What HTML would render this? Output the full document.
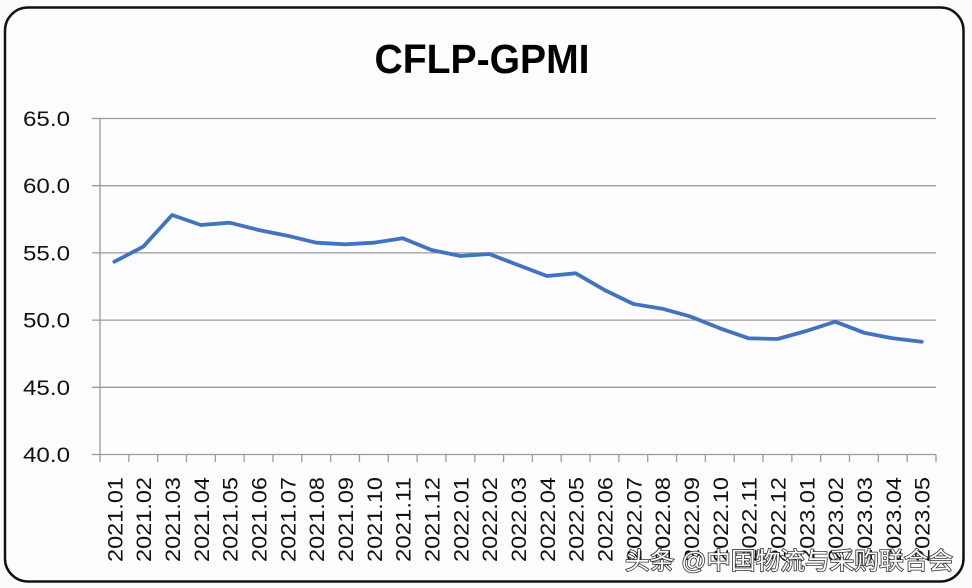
<!DOCTYPE html>
<html>
<head>
<meta charset="utf-8">
<style>
  html,body{margin:0;padding:0;background:#fbfbfb;}
  svg{display:block;}
  text{font-family:"Liberation Sans","Noto Sans CJK SC",sans-serif;}
</style>
</head>
<body>
<svg width="972" height="588" viewBox="0 0 972 588" xmlns="http://www.w3.org/2000/svg">
  <rect x="0" y="0" width="972" height="588" fill="#fbfbfb"/>
  <rect x="5" y="7.5" width="958.5" height="574" rx="23" ry="23" fill="#fdfdff" stroke="#111" stroke-width="2.5"/>

  <text x="482" y="73" text-anchor="middle" font-size="41" font-weight="bold" fill="#000" textLength="215" lengthAdjust="spacingAndGlyphs">CFLP-GPMI</text>

  <!-- gridlines -->
  <g stroke="#9a9a9a" stroke-width="1.3">
    <line x1="92" y1="118.5" x2="936" y2="118.5"/>
    <line x1="92" y1="185.7" x2="936" y2="185.7"/>
    <line x1="92" y1="252.9" x2="936" y2="252.9"/>
    <line x1="92" y1="320.1" x2="936" y2="320.1"/>
    <line x1="92" y1="387.3" x2="936" y2="387.3"/>
    <line x1="92" y1="454.5" x2="936" y2="454.5"/>
    <line x1="100" y1="118.5" x2="100" y2="454.5"/>
  </g>
  <!-- x ticks -->
  <g stroke="#9a9a9a" stroke-width="1.3">
    <line x1="100" y1="454.5" x2="100" y2="462"/>
    <line x1="128.83" y1="454.5" x2="128.83" y2="462"/>
    <line x1="157.66" y1="454.5" x2="157.66" y2="462"/>
    <line x1="186.48" y1="454.5" x2="186.48" y2="462"/>
    <line x1="215.31" y1="454.5" x2="215.31" y2="462"/>
    <line x1="244.14" y1="454.5" x2="244.14" y2="462"/>
    <line x1="272.97" y1="454.5" x2="272.97" y2="462"/>
    <line x1="301.79" y1="454.5" x2="301.79" y2="462"/>
    <line x1="330.62" y1="454.5" x2="330.62" y2="462"/>
    <line x1="359.45" y1="454.5" x2="359.45" y2="462"/>
    <line x1="388.28" y1="454.5" x2="388.28" y2="462"/>
    <line x1="417.10" y1="454.5" x2="417.10" y2="462"/>
    <line x1="445.93" y1="454.5" x2="445.93" y2="462"/>
    <line x1="474.76" y1="454.5" x2="474.76" y2="462"/>
    <line x1="503.59" y1="454.5" x2="503.59" y2="462"/>
    <line x1="532.41" y1="454.5" x2="532.41" y2="462"/>
    <line x1="561.24" y1="454.5" x2="561.24" y2="462"/>
    <line x1="590.07" y1="454.5" x2="590.07" y2="462"/>
    <line x1="618.90" y1="454.5" x2="618.90" y2="462"/>
    <line x1="647.72" y1="454.5" x2="647.72" y2="462"/>
    <line x1="676.55" y1="454.5" x2="676.55" y2="462"/>
    <line x1="705.38" y1="454.5" x2="705.38" y2="462"/>
    <line x1="734.21" y1="454.5" x2="734.21" y2="462"/>
    <line x1="763.03" y1="454.5" x2="763.03" y2="462"/>
    <line x1="791.86" y1="454.5" x2="791.86" y2="462"/>
    <line x1="820.69" y1="454.5" x2="820.69" y2="462"/>
    <line x1="849.52" y1="454.5" x2="849.52" y2="462"/>
    <line x1="878.34" y1="454.5" x2="878.34" y2="462"/>
    <line x1="907.17" y1="454.5" x2="907.17" y2="462"/>
    <line x1="936" y1="454.5" x2="936" y2="462"/>
  </g>

  <!-- y labels -->
  <g font-size="21" fill="#111" text-anchor="end">
    <text x="70" y="126" textLength="47" lengthAdjust="spacingAndGlyphs">65.0</text>
    <text x="70" y="193.2" textLength="47" lengthAdjust="spacingAndGlyphs">60.0</text>
    <text x="70" y="260.4" textLength="47" lengthAdjust="spacingAndGlyphs">55.0</text>
    <text x="70" y="327.6" textLength="47" lengthAdjust="spacingAndGlyphs">50.0</text>
    <text x="70" y="394.8" textLength="47" lengthAdjust="spacingAndGlyphs">45.0</text>
    <text x="70" y="462" textLength="47" lengthAdjust="spacingAndGlyphs">40.0</text>
  </g>

  <!-- x labels -->
  <g font-size="21" fill="#111" text-anchor="end">
    <text transform="translate(122.4,477) rotate(-90)" textLength="85" lengthAdjust="spacingAndGlyphs">2021.01</text>
    <text transform="translate(151.2,477) rotate(-90)" textLength="85" lengthAdjust="spacingAndGlyphs">2021.02</text>
    <text transform="translate(180.1,477) rotate(-90)" textLength="85" lengthAdjust="spacingAndGlyphs">2021.03</text>
    <text transform="translate(208.9,477) rotate(-90)" textLength="85" lengthAdjust="spacingAndGlyphs">2021.04</text>
    <text transform="translate(237.7,477) rotate(-90)" textLength="85" lengthAdjust="spacingAndGlyphs">2021.05</text>
    <text transform="translate(266.6,477) rotate(-90)" textLength="85" lengthAdjust="spacingAndGlyphs">2021.06</text>
    <text transform="translate(295.4,477) rotate(-90)" textLength="85" lengthAdjust="spacingAndGlyphs">2021.07</text>
    <text transform="translate(324.2,477) rotate(-90)" textLength="85" lengthAdjust="spacingAndGlyphs">2021.08</text>
    <text transform="translate(353.1,477) rotate(-90)" textLength="85" lengthAdjust="spacingAndGlyphs">2021.09</text>
    <text transform="translate(381.9,477) rotate(-90)" textLength="85" lengthAdjust="spacingAndGlyphs">2021.10</text>
    <text transform="translate(410.7,477) rotate(-90)" textLength="85" lengthAdjust="spacingAndGlyphs">2021.11</text>
    <text transform="translate(439.5,477) rotate(-90)" textLength="85" lengthAdjust="spacingAndGlyphs">2021.12</text>
    <text transform="translate(468.4,477) rotate(-90)" textLength="85" lengthAdjust="spacingAndGlyphs">2022.01</text>
    <text transform="translate(497.2,477) rotate(-90)" textLength="85" lengthAdjust="spacingAndGlyphs">2022.02</text>
    <text transform="translate(526.0,477) rotate(-90)" textLength="85" lengthAdjust="spacingAndGlyphs">2022.03</text>
    <text transform="translate(554.9,477) rotate(-90)" textLength="85" lengthAdjust="spacingAndGlyphs">2022.04</text>
    <text transform="translate(583.7,477) rotate(-90)" textLength="85" lengthAdjust="spacingAndGlyphs">2022.05</text>
    <text transform="translate(612.5,477) rotate(-90)" textLength="85" lengthAdjust="spacingAndGlyphs">2022.06</text>
    <text transform="translate(641.4,477) rotate(-90)" textLength="85" lengthAdjust="spacingAndGlyphs">2022.07</text>
    <text transform="translate(670.2,477) rotate(-90)" textLength="85" lengthAdjust="spacingAndGlyphs">2022.08</text>
    <text transform="translate(699.0,477) rotate(-90)" textLength="85" lengthAdjust="spacingAndGlyphs">2022.09</text>
    <text transform="translate(727.8,477) rotate(-90)" textLength="85" lengthAdjust="spacingAndGlyphs">2022.10</text>
    <text transform="translate(756.7,477) rotate(-90)" textLength="85" lengthAdjust="spacingAndGlyphs">2022.11</text>
    <text transform="translate(785.5,477) rotate(-90)" textLength="85" lengthAdjust="spacingAndGlyphs">2022.12</text>
    <text transform="translate(814.3,477) rotate(-90)" textLength="85" lengthAdjust="spacingAndGlyphs">2023.01</text>
    <text transform="translate(843.2,477) rotate(-90)" textLength="85" lengthAdjust="spacingAndGlyphs">2023.02</text>
    <text transform="translate(872.0,477) rotate(-90)" textLength="85" lengthAdjust="spacingAndGlyphs">2023.03</text>
    <text transform="translate(900.8,477) rotate(-90)" textLength="85" lengthAdjust="spacingAndGlyphs">2023.04</text>
    <text transform="translate(929.7,477) rotate(-90)" textLength="85" lengthAdjust="spacingAndGlyphs">2023.05</text>
  </g>

  <!-- series -->
  <polyline fill="none" stroke="#4173bf" stroke-width="3.8" stroke-linejoin="round" stroke-linecap="round"
    points="114.4,261.7 143.2,246.7 172.1,215 200.9,225 229.7,222.7 258.6,230 287.4,235.7 316.2,242.7 345.1,244.3 373.9,242.7 402.7,238.3 431.5,250 460.4,256 489.2,254 518.0,265 546.9,276 575.7,273.3 604.5,290 633.4,304 662.2,308.7 691.0,316.7 719.8,328.3 748.7,338.3 777.5,339 806.3,331 835.2,321.7 864.0,332.7 892.8,338.3 921.7,341.7"/>

  <!-- watermark -->
  <text x="625" y="569" font-size="24" fill="#fff" stroke="#333" stroke-width="1.6" paint-order="stroke" textLength="328" lengthAdjust="spacingAndGlyphs" style="font-family:'Liberation Sans','Noto Sans CJK SC',sans-serif;">头条 @中国物流与采购联合会</text>
</svg>
</body>
</html>
